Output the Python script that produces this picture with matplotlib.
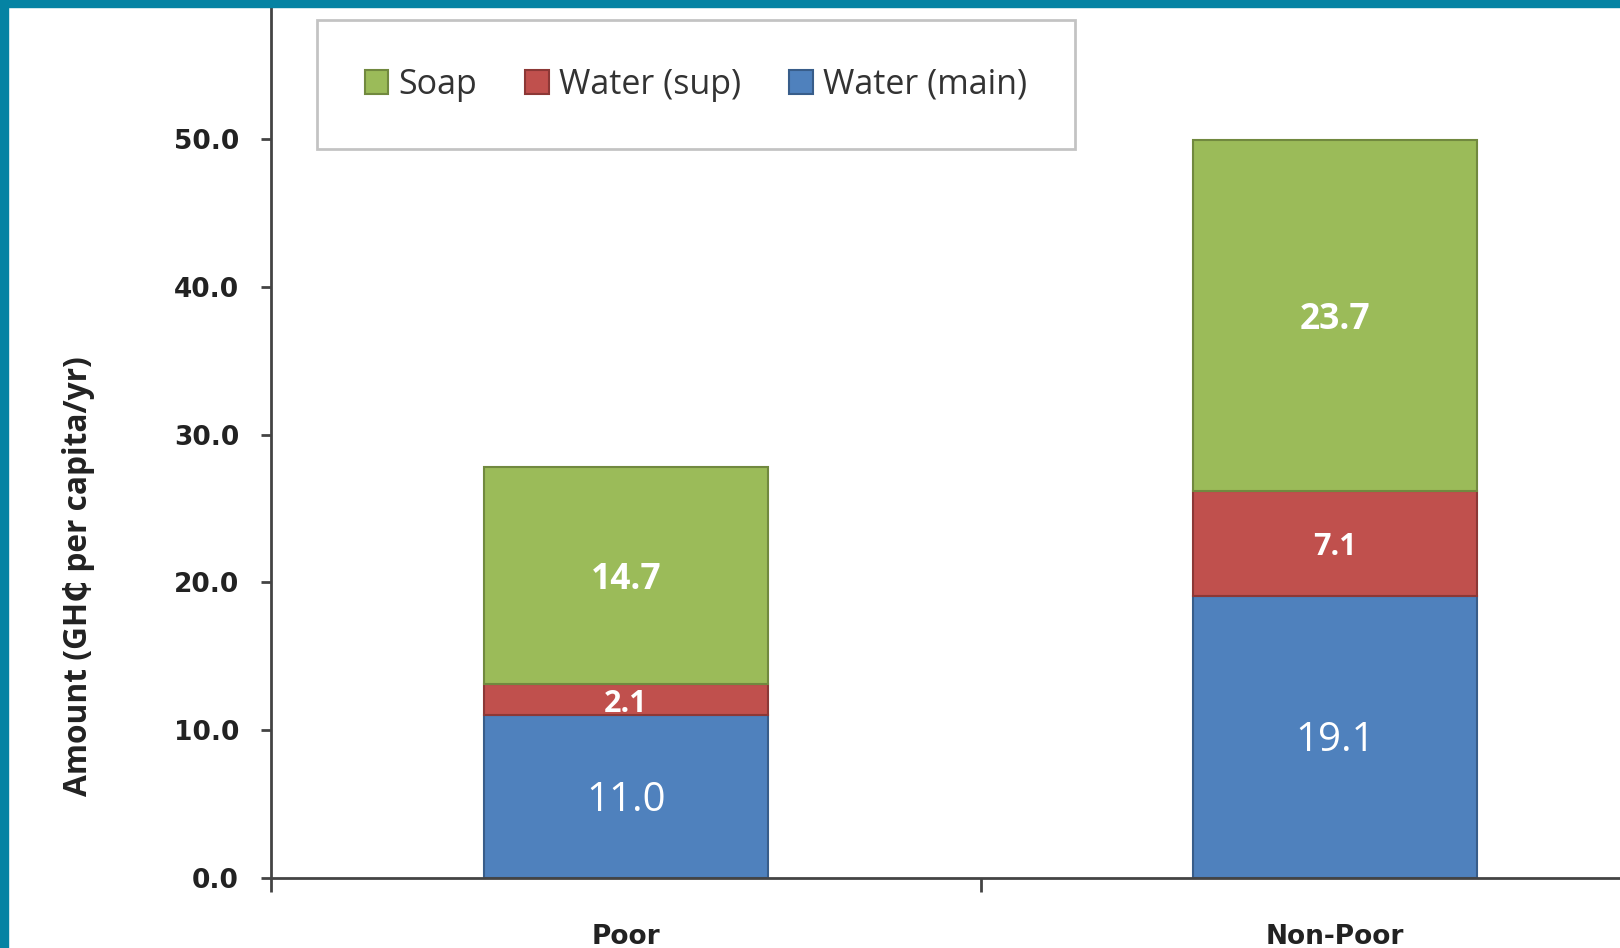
import numpy as np
import matplotlib
matplotlib.use('Agg')
import matplotlib.pyplot as plt
from matplotlib.patches import Rectangle

# data
groups = ['Poor', 'Non-Poor']
water_main = [11.0, 19.1]
water_sup = [2.1, 7.1]
soap = [14.7, 23.7]
y_ticks = [0, 10, 20, 30, 40, 50]

# Excel 2007 default colours
c_main, e_main = '#4F81BD', '#385D8A'
c_sup, e_sup = '#C0504D', '#8C3836'
c_soap, e_soap = '#9BBB59', '#71893F'

fig = plt.figure(figsize=(16.2, 9.48), dpi=100)
ax = fig.add_axes([271 / 1620, 70 / 948, 1419 / 1620, 1 - 70 / 948])

x = np.arange(len(groups))
w = 0.40
b_main = ax.bar(x, water_main, w, color=c_main, edgecolor=e_main, linewidth=1.5,
                label='Water (main)')
b_sup = ax.bar(x, water_sup, w, bottom=water_main, color=c_sup, edgecolor=e_sup,
               linewidth=1.5, label='Water (sup)')
bottom2 = np.array(water_main) + np.array(water_sup)
b_soap = ax.bar(x, soap, w, bottom=bottom2, color=c_soap, edgecolor=e_soap,
                linewidth=1.5, label='Soap')


# label in the middle of each segment, nudged down a bit like Excel does
def seg_labels(bars, vals, size, weight):
    for r, v in zip(bars, vals):
        xc = r.get_x() + r.get_width() / 2
        yc = r.get_y() + r.get_height() / 2
        ax.annotate('%.1f' % v, (xc, yc), xytext=(0, -3), textcoords='offset points',
                    ha='center', va='center', color='white', fontsize=size,
                    fontweight=weight, family='Open Sans')


seg_labels(b_main, water_main, 29, 'normal')
seg_labels(b_sup, water_sup, 22, 'bold')
seg_labels(b_soap, soap, 25.5, 'bold')

ax.set_xlim(-0.5, 1.5)
ax.set_ylim(0, 878 / 14.78)
ax.set_yticks(y_ticks)
ax.set_yticklabels(['%.1f' % v for v in y_ticks], fontsize=19, fontweight='bold',
                   color='#222222')
ax.set_xticks(x)
ax.set_xticklabels(groups, fontsize=19, fontweight='bold', color='#222222')
ax.set_xticks([-0.5, 0.5, 1.5], minor=True)
ax.tick_params(axis='x', which='major', length=0, pad=33)
ax.tick_params(axis='x', which='minor', length=10, width=2, color='#444444')
ax.tick_params(axis='y', length=7, width=2, color='#444444', pad=16)

for s in ['top', 'right']:
    ax.spines[s].set_visible(False)
for s in ['left', 'bottom']:
    ax.spines[s].set_color('#444444')
    ax.spines[s].set_linewidth(2)

ax.set_ylabel('Amount (GH\u20b5 per capita/yr)', fontsize=22.8, fontweight='bold',
              family=['Open Sans', 'DejaVu Sans'], color='#222222')
ax.yaxis.set_label_coords(-0.124, 0.344)

# legend order as in the picture
leg = ax.legend(handles=[b_soap, b_sup, b_main], loc='upper left',
                bbox_to_anchor=(317 / 1620, 1 - 20 / 948), bbox_transform=fig.transFigure,
                ncol=3, prop={'family': 'Open Sans', 'size': 24.5},
                frameon=True, fancybox=False, borderpad=1.4, borderaxespad=0,
                handlelength=0.7, handleheight=0.7, handletextpad=0.3,
                columnspacing=1.4)
leg.get_frame().set_edgecolor('#B5B5B5')
leg.get_frame().set_linewidth(2)
for t in leg.get_texts():
    t.set_color('#333333')

# teal border on top and left
teal = '#0583A3'
fig.patches.append(Rectangle((0, 1 - 7 / 948), 1, 7 / 948, transform=fig.transFigure,
                             color=teal, zorder=10))
fig.patches.append(Rectangle((0, 0), 8 / 1620, 1, transform=fig.transFigure,
                             color=teal, zorder=10))

plt.savefig('out.png', dpi=100)
